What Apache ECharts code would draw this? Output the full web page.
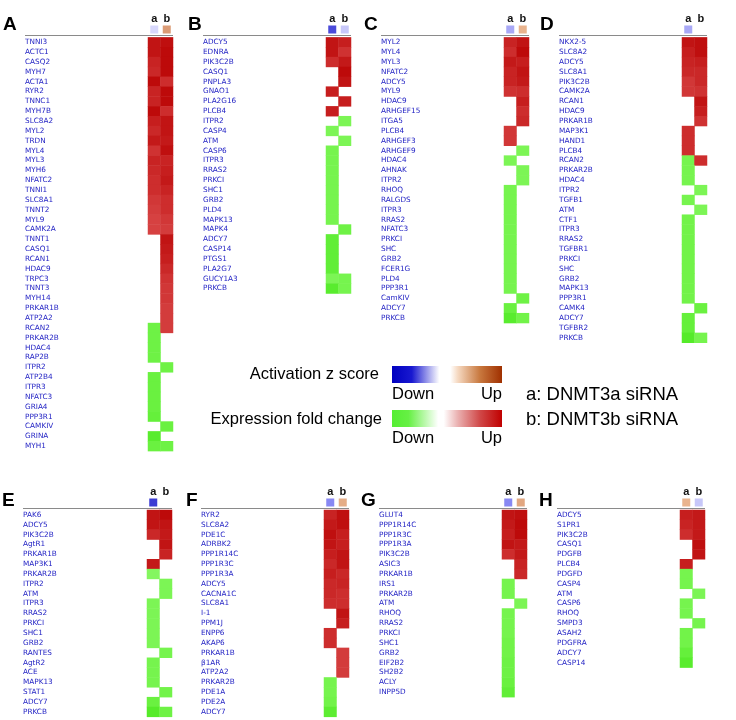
<!DOCTYPE html>
<html><head><meta charset="utf-8">
<script src="https://cdn.jsdelivr.net/npm/echarts@6/dist/echarts.min.js"></script>
<style>html,body{margin:0;padding:0;background:#fff}#c{width:736px;height:720px}</style>
</head><body><div id="c"></div>
<script>
// ---------- DATA ----------
const columns = ['a', 'b'];

const genesA = ['TNNI3','ACTC1','CASQ2','MYH7','ACTA1','RYR2','TNNC1','MYH7B','SLC8A2','MYL2','TRDN','MYL4','MYL3','MYH6','NFATC2','TNNI1','SLC8A1','TNNT2','MYL9','CAMK2A','TNNT1','CASQ1','RCAN1','HDAC9','TRPC3','TNNT3','MYH14','PRKAR1B','ATP2A2','RCAN2','PRKAR2B','HDAC4','RAP2B','ITPR2','ATP2B4','ITPR3','NFATC3','GRIA4','PPP3R1','CAMKIV','GRINA','MYH1'];
const aA = [3.1,3.1,2.8,2.7,3.3,2.8,2.8,3.3,2.9,2.7,3.0,2.5,2.8,2.7,2.6,2.6,2.4,2.3,2.2,2.2,null,null,null,null,null,null,null,null,null,-2.0,-2.0,-2.0,-2.0,null,-2.1,-2.1,-2.1,-2.1,-2.2,null,-2.5,-2.1];
const bA = [3.2,3.3,3.3,3.3,2.6,3.3,3.3,2.6,3.1,3.1,3.0,3.2,2.8,2.9,3.0,2.8,2.6,2.6,2.4,2.3,3.1,3.0,2.9,2.7,2.5,2.4,2.4,2.3,2.3,2.3,null,null,null,-2.0,null,null,null,null,null,-2.1,null,-2.0];
const zA = [-0.5, 1.9];

const genesB = ['ADCY5','EDNRA','PIK3C2B','CASQ1','PNPLA3','GNAO1','PLA2G16','PLCB4','ITPR2','CASP4','ATM','CASP6','ITPR3','RRAS2','PRKCI','SHC1','GRB2','PLD4','MAPK13','MAPK4','ADCY7','CASP14','PTGS1','PLA2G7','GUCY1A3','PRKCB'];
const aB = [3.1,3.1,2.6,null,null,2.9,null,2.9,null,-1.7,null,-1.8,-1.8,-1.8,-1.8,-1.8,-1.8,-1.8,-1.8,null,-2.3,-2.3,-2.3,-2.3,-1.7,-2.5];
const bB = [2.9,2.5,3.0,3.3,3.1,null,2.9,null,-1.7,null,-1.7,null,null,null,null,null,null,null,null,-2.0,null,null,null,null,-1.8,-1.8];
const zB = [-2.7, -0.7];

const genesC = ['MYL2','MYL4','MYL3','NFATC2','ADCY5','MYL9','HDAC9','ARHGEF15','ITGA5','PLCB4','ARHGEF3','ARHGEF9','HDAC4','AHNAK','ITPR2','RHOQ','RALGDS','ITPR3','RRAS2','NFATC3','PRKCI','SHC','GRB2','FCER1G','PLD4','PPP3R1','CamKIV','ADCY7','PRKCB'];
const aC = [2.8,2.6,3.0,2.8,2.8,2.5,null,null,null,2.4,2.4,null,-1.7,null,null,-1.8,-1.8,-1.8,-1.8,-1.8,-1.8,-1.8,-1.8,-1.8,-1.8,-1.8,null,-2.1,-2.5];
const bC = [3.1,3.3,2.9,3.1,3.0,2.6,2.9,2.6,2.7,null,null,-1.7,null,-1.7,-1.7,null,null,null,null,null,null,null,null,null,null,null,-2.0,null,-1.9];
const zC = [-1.1, 1.5];

const genesD = ['NKX2-5','SLC8A2','ADCY5','SLC8A1','PIK3C2B','CAMK2A','RCAN1','HDAC9','PRKAR1B','MAP3K1','HAND1','PLCB4','RCAN2','PRKAR2B','HDAC4','ITPR2','TGFB1','ATM','CTF1','ITPR3','RRAS2','TGFBR1','PRKCI','SHC','GRB2','MAPK13','PPP3R1','CAMK4','ADCY7','TGFBR2','PRKCB'];
const aD = [3.1,2.9,2.8,2.7,2.4,2.4,null,null,null,2.6,2.6,2.6,-1.8,-1.8,-1.8,null,-1.8,null,-1.9,-1.9,-1.9,-1.9,-1.9,-1.9,-1.9,-1.9,-1.9,null,-2.2,-2.2,-2.6];
const bD = [3.2,3.2,2.9,2.7,2.7,2.5,3.1,2.9,2.5,null,null,null,2.6,null,null,-1.7,null,-1.7,null,null,null,null,null,null,null,null,null,-2.1,null,null,-1.8];
const zD = [-1.1, null];

const genesE = ['PAK6','ADCY5','PIK3C2B','AgtR1','PRKAR1B','MAP3K1','PRKAR2B','ITPR2','ATM','ITPR3','RRAS2','PRKCI','SHC1','GRB2','RANTES','AgtR2','ACE','MAPK13','STAT1','ADCY7','PRKCB'];
const aE = [3.1,3.1,2.7,null,null,3.0,-1.6,null,null,-1.7,-1.7,-1.7,-1.7,-1.7,null,-1.8,-1.8,-1.8,null,-2.1,-2.6];
const bE = [3.3,3.1,3.0,3.1,2.8,null,null,-1.7,-1.7,null,null,null,null,null,-1.8,null,null,null,-1.9,null,-2.0];
const zE = [-3.0, null];

const genesF = ['RYR2','SLC8A2','PDE1C','ADRBK2','PPP1R14C','PPP1R3C','PPP1R3A','ADCY5','CACNA1C','SLC8A1','I-1','PPM1J','ENPP6','AKAP6','PRKAR1B','β1AR','ATP2A2','PRKAR2B','PDE1A','PDE2A','ADCY7'];
const aF = [2.8,3.0,3.2,3.1,2.9,2.7,2.9,2.7,2.7,2.6,null,null,2.6,2.6,null,null,null,-1.8,-1.8,-1.9,-2.4];
const bF = [3.2,3.2,2.9,2.9,3.1,3.1,2.7,2.8,2.6,2.6,3.1,2.9,null,null,2.3,2.3,2.3,null,null,null,null];
const zF = [-1.5, 1.6];

const genesG = ['GLUT4','PPP1R14C','PPP1R3C','PPP1R3A','PIK3C2B','ASIC3','PRKAR1B','IRS1','PRKAR2B','ATM','RHOQ','RRAS2','PRKCI','SHC1','GRB2','EIF2B2','SH2B2','ACLY','INPP5D'];
const aG = [3.1,3.0,2.9,3.1,2.6,null,null,-1.8,-1.8,null,-1.8,-1.8,-1.8,-1.9,-1.9,-2.0,-2.0,-2.1,-2.3];
const bG = [3.2,3.3,3.3,3.0,3.0,2.8,2.7,null,null,-1.7,null,null,null,null,null,null,null,null,null];
const zG = [-1.5, 1.7];

const genesH = ['ADCY5','S1PR1','PIK3C2B','CASQ1','PDGFB','PLCB4','PDGFD','CASP4','ATM','CASP6','RHOQ','SMPD3','ASAH2','PDGFRA','ADCY7','CASP14'];
const aH = [2.9,2.8,2.6,null,null,2.9,-1.8,-1.8,null,-1.8,-1.8,null,-1.9,-1.9,-2.2,-2.5];
const bH = [3.0,3.0,3.0,3.2,3.1,null,null,null,-1.7,null,null,-1.8,null,null,null,null];
const zH = [1.5, -0.7];

const panelLetters = ['A','B','C','D','E','F','G','H'];
const panelGenes = [genesA,genesB,genesC,genesD,genesE,genesF,genesG,genesH];
const panelA = [aA,aB,aC,aD,aE,aF,aG,aH];
const panelB = [bA,bB,bC,bD,bE,bF,bG,bH];
const panelZ = [zA,zB,zC,zD,zE,zF,zG,zH];

// ---------- LAYOUT (positions/styles only) ----------
const rowH = 9.85;
const colW = 12.5;
const layout = [
  {letterX:3,   labelX:25,  cellX:148, r:0},
  {letterX:188, labelX:203, cellX:326, r:0},
  {letterX:364, labelX:381, cellX:504, r:0},
  {letterX:540, labelX:559, cellX:682, r:0},
  {letterX:2,   labelX:23,  cellX:147, r:1},
  {letterX:186, labelX:201, cellX:324, r:1},
  {letterX:361, labelX:379, cellX:502, r:1},
  {letterX:539, labelX:557, cellX:680, r:1}
];
const cellTop = [37.4, 510];
const headTop = [25.5, 498.5];
const lineY = [35.5, 508.5];
const letterY = [26, 502];
const FONT = "'Liberation Sans', Arial, sans-serif";
const LABELFONT = "'DejaVu Sans', Verdana, sans-serif";

const grid = [], xAxis = [], yAxis = [], series = [], graphic = [];
const heatIdx = [], headIdx = [];

panelLetters.forEach((L, i) => {
  const lay = layout[i];
  const genes = panelGenes[i];
  const n = genes.length;
  // heat grid
  grid.push({left: lay.cellX, top: cellTop[lay.r], width: colW*2, height: n*rowH});
  xAxis.push({type:'category', gridIndex: 2*i, data: columns, show:false});
  yAxis.push({type:'category', gridIndex: 2*i, data: genes, inverse:true,
    axisLine:{show:false}, axisTick:{show:false}, splitLine:{show:false},
    axisLabel:{interval:0, align:'left', margin: lay.cellX - lay.labelX,
      fontSize:7.3, color:'#2222c4', fontFamily: LABELFONT}});
  // header grid
  grid.push({left: lay.cellX, top: headTop[lay.r], width: colW*2, height: 8});
  xAxis.push({type:'category', gridIndex: 2*i+1, data: columns, position:'top',
    axisLine:{show:false}, axisTick:{show:false},
    axisLabel:{interval:0, margin:1, fontSize:11, fontWeight:'bold', color:'#111', fontFamily: FONT}});
  yAxis.push({type:'category', gridIndex: 2*i+1, data:[''], show:false});

  const heat = [];
  genes.forEach((g, k) => {
    if (panelA[i][k] !== null) heat.push([0, k, panelA[i][k]]);
    if (panelB[i][k] !== null) heat.push([1, k, panelB[i][k]]);
  });
  heatIdx.push(series.length);
  series.push({type:'heatmap', xAxisIndex:2*i, yAxisIndex:2*i, data:heat,
    itemStyle:{borderWidth:0}, emphasis:{disabled:true}});
  const head = [];
  panelZ[i].forEach((z, k) => { if (z !== null) head.push([k, 0, z]); });
  headIdx.push(series.length);
  series.push({type:'scatter', xAxisIndex:2*i+1, yAxisIndex:2*i+1, data:head,
    symbol:'rect', symbolSize:8, emphasis:{disabled:true}});

  graphic.push({type:'text', left: lay.letterX, top: letterY[lay.r]-11,
    style:{text:L, font:'bold 19px ' + FONT, fill:'#000'}});
  graphic.push({type:'line', shape:{x1: lay.labelX, y1: lineY[lay.r], x2: lay.cellX + 2*colW, y2: lineY[lay.r]},
    style:{stroke:'#8a8a8a', lineWidth:1}});
});

// legend graphics
const lg = (x, y, txt, size, align) => ({type:'text', x:x, y:y,
  style:{text:txt, font: size + 'px ' + FONT, fill:'#000', align: align || 'left', verticalAlign:'middle'}});
graphic.push(lg(379, 374, 'Activation z score', 16.5, 'right'));
graphic.push({type:'rect', shape:{x:392, y:366, width:110, height:17},
  style:{fill: new echarts.graphic.LinearGradient(0,0,1,0,[
    {offset:0, color:'#0000c0'},{offset:0.18, color:'#1818d0'},{offset:0.43, color:'#ffffff'},
    {offset:0.53, color:'#ffffff'},{offset:0.6, color:'#f5d8c0'},{offset:0.8, color:'#c8783e'},{offset:1, color:'#a03000'}])}});
graphic.push(lg(392, 394, 'Down', 16.5));
graphic.push(lg(502, 394, 'Up', 16.5, 'right'));
graphic.push(lg(382, 419, 'Expression fold change', 16.5, 'right'));
graphic.push({type:'rect', shape:{x:392, y:410, width:110, height:17},
  style:{fill: new echarts.graphic.LinearGradient(0,0,1,0,[
    {offset:0, color:'#55ee33'},{offset:0.15, color:'#66f044'},{offset:0.42, color:'#ffffff'},
    {offset:0.47, color:'#ffffff'},{offset:0.6, color:'#eab0b0'},{offset:0.8, color:'#d04848'},{offset:1, color:'#c00000'}])}});
graphic.push(lg(392, 438, 'Down', 16.5));
graphic.push(lg(502, 438, 'Up', 16.5, 'right'));
graphic.push(lg(526, 395, 'a: DNMT3a siRNA', 18.5));
graphic.push(lg(526, 420, 'b: DNMT3b siRNA', 18.5));

const chart = echarts.init(document.getElementById('c'));
chart.setOption({
  animation:false,
  backgroundColor:'#fff',
  grid, xAxis, yAxis, series, graphic,
  visualMap:[
    {type:'continuous', show:false, seriesIndex:heatIdx, dimension:2, min:-3.5, max:3.5,
     inRange:{color:['#30e000','#78f550','#ffffff','#e05858','#b80000']}},
    {type:'continuous', show:false, seriesIndex:headIdx, dimension:2, min:-3, max:3,
     inRange:{color:['#0a0ac8','#6a6af0','#ffffff','#e4a070','#a03000']}}
  ]
});
</script></body></html>
